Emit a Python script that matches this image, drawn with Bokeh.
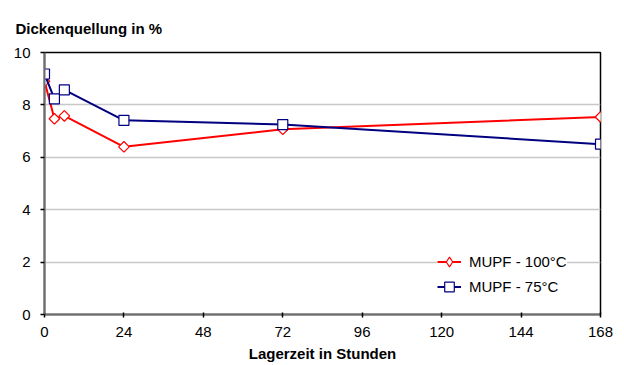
from bokeh.plotting import figure
from bokeh.models import Legend, LegendItem, Range1d, FixedTicker
from bokeh.embed import file_html
from bokeh.resources import INLINE
import math

hours = [0, 3, 6, 24, 72, 168]
mupf_100 = [8.9, 7.47, 7.58, 6.40, 7.07, 7.54]
mupf_75 = [9.18, 8.23, 8.57, 7.41, 7.25, 6.50]
x_ticks = [0, 24, 48, 72, 96, 120, 144, 168]
y_ticks = [0, 2, 4, 6, 8, 10]

FONT = "Liberation Sans"

p = figure(width=616, height=365, output_backend="svg", toolbar_location=None,
           x_range=Range1d(0, 168), y_range=Range1d(0, 10),
           min_border_left=44, min_border_right=16, min_border_top=52, min_border_bottom=51)

p.title.text = "Dickenquellung in %"
p.title.align = "left"
p.title.vertical_align = "bottom"
p.title.offset = -29
p.title.standoff = 32
p.title.text_font = FONT
p.title.text_font_size = "15px"
p.title.text_font_style = "bold"
p.title.text_color = "#000000"

p.outline_line_color = "#000000"
p.outline_line_width = 1.5
p.xgrid.visible = False
p.ygrid.ticker = FixedTicker(ticks=y_ticks)
p.ygrid.grid_line_color = "#C8C8C8"
p.ygrid.grid_line_width = 1.5

for ax in (p.xaxis, p.yaxis):
    ax.axis_line_color = "#6E6E6E"
    ax.axis_line_width = 2
    ax.major_tick_line_color = "#000000"
    ax.major_tick_line_width = 1.5
    ax.minor_tick_line_color = None
    ax.major_label_text_font = FONT
    ax.major_label_text_font_size = "15px"
    ax.major_label_text_color = "#000000"

p.xaxis.ticker = FixedTicker(ticks=x_ticks)
p.yaxis.ticker = FixedTicker(ticks=y_ticks)
p.xaxis.major_tick_in = 2
p.xaxis.major_tick_out = 3
p.yaxis.major_tick_in = 0
p.yaxis.major_tick_out = 4
p.yaxis.major_label_standoff = 10
p.xaxis.major_label_standoff = 9

p.xaxis.axis_label = "Lagerzeit in Stunden"
p.xaxis.axis_label_text_font = FONT
p.xaxis.axis_label_text_font_size = "15px"
p.xaxis.axis_label_text_font_style = "bold"
p.xaxis.axis_label_text_color = "#000000"
p.xaxis.axis_label_standoff = 5

red = "#FF0000"
navy = "#000080"

l1 = p.line(hours, mupf_100, line_color=red, line_width=2)
# diamond used for the legend symbol, hidden under the drawn diamonds
m1_leg = p.scatter(hours, mupf_100, marker="diamond", size=9.5,
                   line_color=red, fill_color="white", line_width=1.2)
p.scatter(hours, mupf_100, marker="square", angle=math.pi / 4, size=7.5,
          line_color=red, fill_color="white", line_width=1.2)
l2 = p.line(hours, mupf_75, line_color=navy, line_width=2)
m2 = p.scatter(hours, mupf_75, marker="square", size=10,
               line_color=navy, fill_color="white", line_width=1.2)

legend = Legend(items=[LegendItem(label="MUPF - 100°C", renderers=[l1, m1_leg]),
                       LegendItem(label="MUPF - 75°C", renderers=[l2, m2])],
                location=(393, 15))
legend.border_line_color = None
legend.background_fill_color = "white"
legend.background_fill_alpha = 1
legend.padding = 8
legend.margin = 0
legend.spacing = 0
legend.glyph_width = 24
legend.glyph_height = 25
legend.label_height = 25
legend.label_standoff = 8
legend.label_text_font = FONT
legend.label_text_font_size = "15px"
legend.label_text_color = "#000000"
p.add_layout(legend, "center")

open("out.html", "w").write(file_html(p, INLINE))
